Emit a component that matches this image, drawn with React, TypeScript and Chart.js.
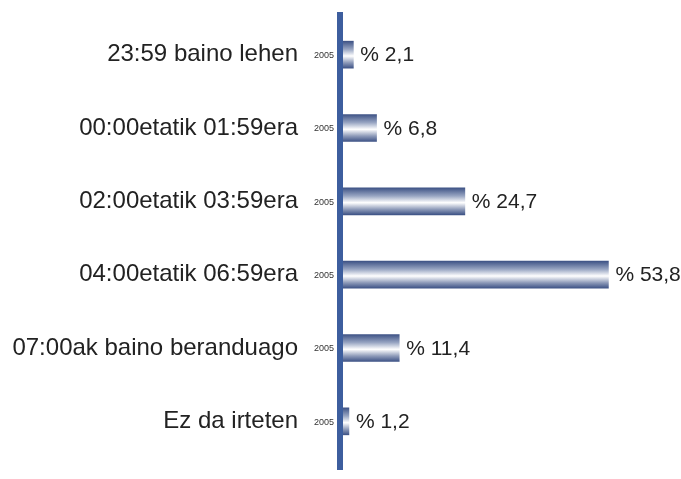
import React, { useEffect, useRef } from "react";
import { Chart, registerables } from "chart.js";

Chart.register(...registerables);

const categories = [
  "23:59 baino lehen",
  "00:00etatik 01:59era",
  "02:00etatik 03:59era",
  "04:00etatik 06:59era",
  "07:00ak baino beranduago",
  "Ez da irteten",
];
const values = [2.1, 6.8, 24.7, 53.8, 11.4, 1.2];
const yearLabel = "2005";

const DARK = "#3f5588";
const AXIS = "#3d5e9e";
const TEXT = "#222222";
const FONT = "Arial, 'Liberation Sans', sans-serif";

export default function App() {
  const ref = useRef<HTMLCanvasElement | null>(null);

  useEffect(() => {
    if (!ref.current) return;
    const barThickness = 27;

    const decor = {
      id: "decor",
      beforeDatasetsDraw(chart: any) {
        const ctx = chart.ctx;
        const left = chart.chartArea.left;
        ctx.save();
        ctx.fillStyle = AXIS;
        ctx.fillRect(left - 6, chart.chartArea.top - 6, 6, chart.chartArea.bottom - chart.chartArea.top + 18);
        ctx.restore();
      },
      afterDatasetsDraw(chart: any) {
        const ctx = chart.ctx;
        const meta = chart.getDatasetMeta(0);
        ctx.save();
        ctx.textBaseline = "middle";
        meta.data.forEach((bar: any, i: number) => {
          ctx.fillStyle = TEXT;
          ctx.font = `21px ${FONT}`;
          ctx.textAlign = "left";
          ctx.fillText("% " + values[i].toFixed(1).replace(".", ","), bar.x + 7, bar.y + 1);
          ctx.font = `9px ${FONT}`;
          ctx.textAlign = "right";
          ctx.fillStyle = "#333";
          ctx.fillText(yearLabel, chart.chartArea.left - 9, bar.y + 1);
        });
        ctx.restore();
      },
    };

    const chart = new Chart(ref.current, {
      type: "bar",
      data: {
        labels: categories,
        datasets: [
          {
            data: values,
            barThickness,
            borderWidth: 0,
            backgroundColor: (c: any) => {
              const ch = c.chart;
              if (!ch.chartArea || !ch.scales.y) return DARK;
              const y = ch.scales.y.getPixelForValue(c.dataIndex);
              const g = ch.ctx.createLinearGradient(0, y - barThickness / 2, 0, y + barThickness / 2);
              g.addColorStop(0, "#3e5386");
              g.addColorStop(0.3, "#98a5c2");
              g.addColorStop(0.55, "#ffffff");
              g.addColorStop(0.8, "#8c99b8");
              g.addColorStop(1, "#3e5386");
              return g;
            },
          },
        ],
      },
      options: {
        indexAxis: "y",
        animation: false,
        responsive: false,
        maintainAspectRatio: false,
        devicePixelRatio: 1,
        layout: { padding: { top: 18, bottom: 21, left: 0, right: 42 } },
        plugins: { legend: { display: false }, tooltip: { enabled: false } },
        scales: {
          x: { display: false, min: 0, max: 60 },
          y: {
            border: { display: false },
            grid: { display: false, drawTicks: false },
            afterFit: (s: any) => {
              s.width = 343;
              s.paddingTop = 0;
              s.paddingBottom = 0;
            },
            ticks: {
              padding: 45,
              color: TEXT,
              font: { size: 24, family: FONT },
            },
          },
        },
      },
      plugins: [decor],
    });
    return () => chart.destroy();
  }, []);

  return (
    <div style={{ position: "fixed", left: 0, top: 0, width: 681, height: 479, background: "#fff" }}>
      <canvas ref={ref} width={681} height={479} style={{ display: "block" }} />
    </div>
  );
}
